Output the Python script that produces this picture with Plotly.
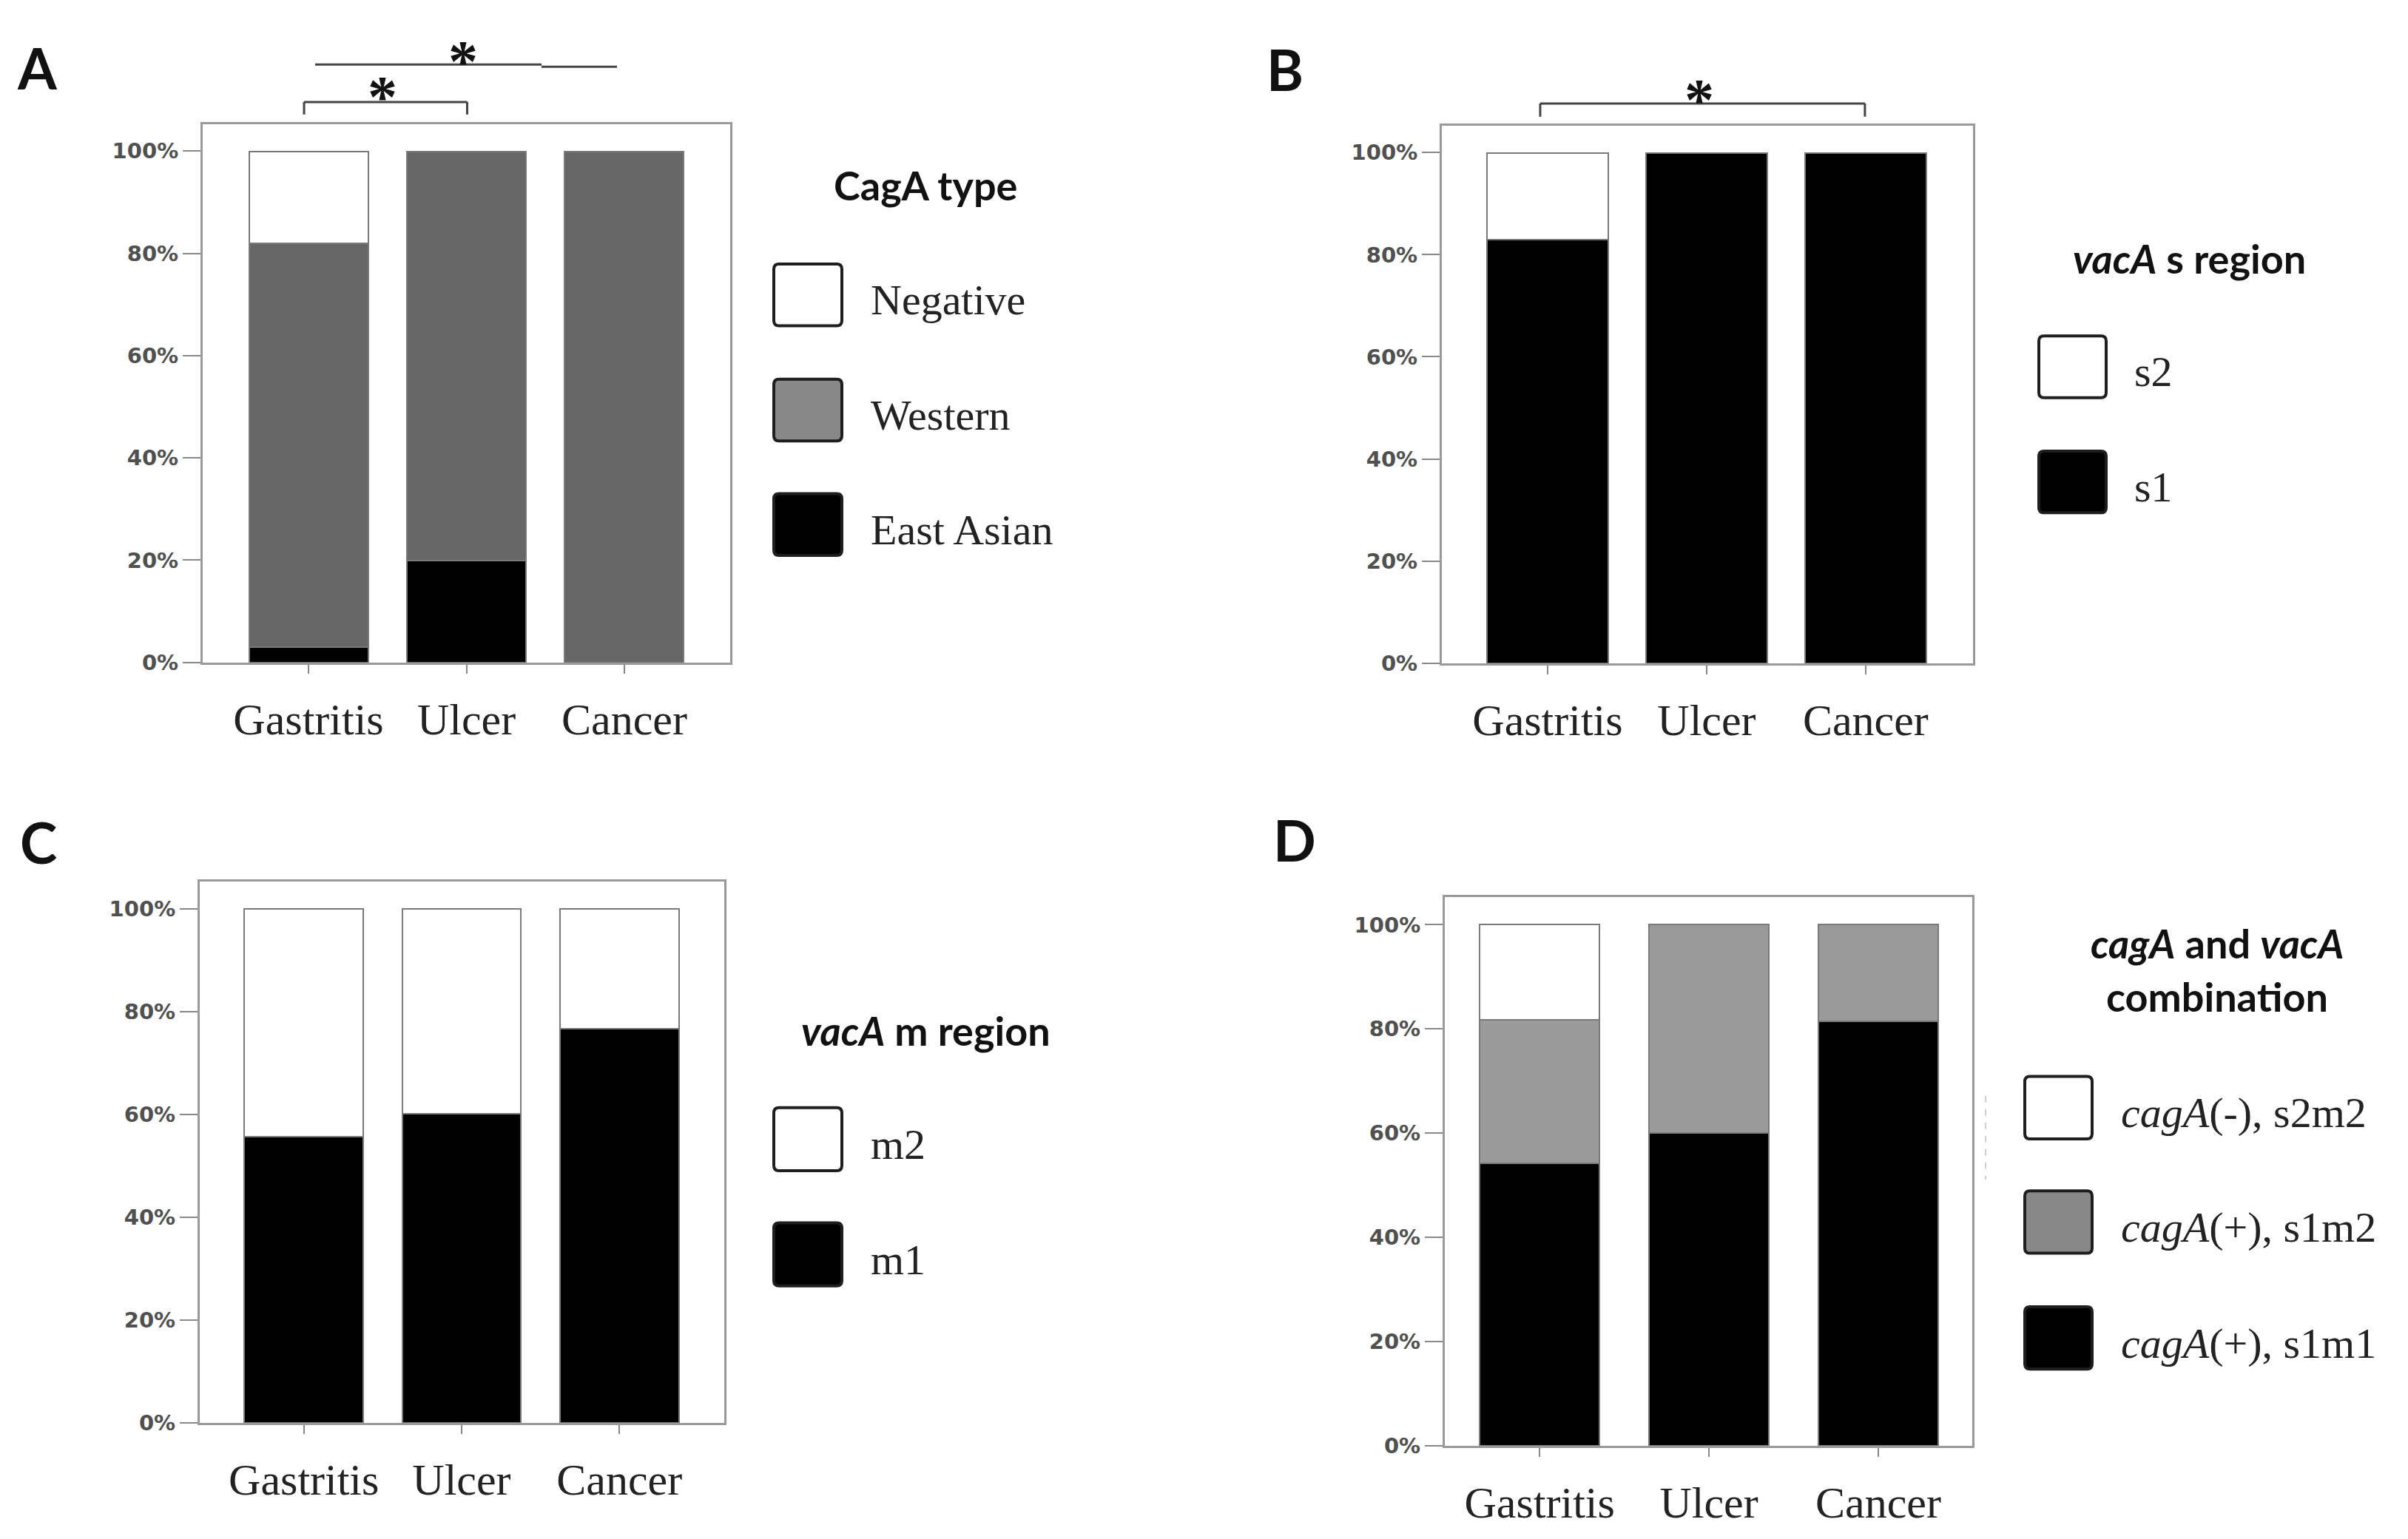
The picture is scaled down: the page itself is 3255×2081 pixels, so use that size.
import plotly.graph_objects as go

W, H = 3255, 2081
OFF = 8  # default page body margin in the browser

# ---------------- data ----------------
categories = ["Gastritis", "Ulcer", "Cancer"]
y_tick_values = [0, 20, 40, 60, 80, 100]
y_tick_labels = ["0%", "20%", "40%", "60%", "80%", "100%"]

# Panel A: CagA type
cagA_east_asian = [3, 20, 0]
cagA_western = [79, 80, 100]
cagA_negative = [18, 0, 0]
# Panel B: vacA s region
vacA_s1 = [83, 100, 100]
vacA_s2 = [17, 0, 0]
# Panel C: vacA m region
vacA_m1 = [55.6, 60.1, 76.7]
vacA_m2 = [44.4, 39.9, 23.3]
# Panel D: cagA and vacA combination
combo_s1m1 = [54.2, 60.0, 81.4]
combo_s1m2 = [27.6, 40.0, 18.6]
combo_s2m2 = [18.2, 0, 0]

legend_A_names = ["Negative", "Western", "East Asian"]
legend_B_names = ["s2", "s1"]
legend_C_names = ["m2", "m1"]
legend_D_names = ["<i>cagA</i>(-), s2m2", "<i>cagA</i>(+), s1m2", "<i>cagA</i>(+), s1m1"]

# ---------------- helpers ----------------
def X(px):
    return (px - OFF) / W

def Y(py):
    return 1 - (py - OFF) / H

# panel geometry (pixels): x0, x1, y_top, y_bottom, x-range
panels = {
    "A": dict(ax="", box=(274, 987, 169, 903), xr=(-0.67, 2.67), bw=0.754),
    "B": dict(ax="2", box=(1949, 2667, 171, 904), xr=(-0.665, 2.675), bw=0.76),
    "C": dict(ax="3", box=(270, 979, 1202, 1940), xr=(-0.66, 2.665), bw=0.754),
    "D": dict(ax="4", box=(1953, 2666, 1223, 1971), xr=(-0.56, 2.555), bw=0.71),
}
Y_MAX = 105.3

fig = go.Figure()

def add_bars(panel, series):
    p = panels[panel]
    for vals, color in series:
        fig.add_trace(go.Bar(
            x=categories, y=vals, width=p["bw"],
            marker=dict(color=color, line=dict(color="#7a7a7a", width=2)),
            xaxis="x" + p["ax"], yaxis="y" + p["ax"], showlegend=False,
            hoverinfo="x+y",
        ))

add_bars("A", [(cagA_east_asian, "#000000"), (cagA_western, "#666666"), (cagA_negative, "#ffffff")])
add_bars("B", [(vacA_s1, "#000000"), (vacA_s2, "#ffffff")])
add_bars("C", [(vacA_m1, "#000000"), (vacA_m2, "#ffffff")])
add_bars("D", [(combo_s1m1, "#000000"), (combo_s1m2, "#9a9a9a"), (combo_s2m2, "#ffffff")])

layout = dict(
    width=W, height=H, autosize=False,
    margin=dict(l=0, r=0, t=0, b=0),
    paper_bgcolor="white", plot_bgcolor="white",
    barmode="stack", bargap=0,
    showlegend=False,
)
for name, p in panels.items():
    x0, x1, yt, yb = p["box"]
    layout["xaxis" + p["ax"]] = dict(
        domain=[X(x0), X(x1)], anchor="y" + p["ax"], type="category",
        range=list(p["xr"]), showline=True, mirror=True, linecolor="#9a9a9a", linewidth=3,
        ticks="outside", ticklen=12, tickwidth=2, tickcolor="#888888",
        tickfont=dict(family="Liberation Serif", size=60, color="#222222"),
        ticklabelstandoff=10, showgrid=False, zeroline=False, fixedrange=True,
    )
    layout["yaxis" + p["ax"]] = dict(
        domain=[Y(yb), Y(yt)], anchor="x" + p["ax"], range=[0, Y_MAX],
        tickvals=y_tick_values, ticktext=["<b>" + t + "</b>" for t in y_tick_labels],
        showline=True, mirror=True, linecolor="#9a9a9a", linewidth=3,
        ticks="outside", ticklen=24, tickwidth=2, tickcolor="#888888",
        tickfont=dict(family="DejaVu Sans", size=29, color="#505050"),
        showgrid=False, zeroline=False, fixedrange=True,
    )
fig.update_layout(**layout)

shapes = []
annotations = []

def cat_px(panel, c):
    p = panels[panel]
    x0, x1, _, _ = p["box"]
    r0, r1 = p["xr"]
    return x0 + (c - r0) / (r1 - r0) * (x1 - x0)

def line(xa, ya, xb, yb, color="#444444", width=3, dash=None):
    d = dict(type="line", xref="paper", yref="paper",
             x0=X(xa), y0=Y(ya), x1=X(xb), y1=Y(yb),
             line=dict(color=color, width=width))
    if dash:
        d["line"]["dash"] = dash
    shapes.append(d)

def text(px, py, s, size, family, color="#111111", xanchor="center"):
    annotations.append(dict(
        xref="paper", yref="paper", x=X(px), y=Y(py), text=s, showarrow=False,
        xanchor=xanchor, yanchor="middle",
        font=dict(family=family, size=size, color=color),
    ))

def rrect(xa, ya, xb, yb, r, fill):
    pts = [
        ("M", [(xa + r, ya)]), ("L", [(xb - r, ya)]), ("Q", [(xb, ya), (xb, ya + r)]),
        ("L", [(xb, yb - r)]), ("Q", [(xb, yb), (xb - r, yb)]), ("L", [(xa + r, yb)]),
        ("Q", [(xa, yb), (xa, yb - r)]), ("L", [(xa, ya + r)]), ("Q", [(xa, ya), (xa + r, ya)]),
    ]
    path = ""
    for cmd, pl in pts:
        path += cmd + " " + " ".join(f"{X(a):.6f},{Y(b):.6f}" for a, b in pl) + " "
    path += "Z"
    shapes.append(dict(type="path", xref="paper", yref="paper", path=path,
                       fillcolor=fill, line=dict(color="#1e1e1e", width=4)))

# significance marks: (panel, cat_from, cat_to, pixel trim left, pixel trim right,
#                      y_line, y_tick_end or None, y_star)
significance = [
    ("A", 0, 1, -6, 1, 139, 156, 120),
    ("A", 0, 2, 9, -10, 89, None, 72),
    ("B", 0, 2, -10, -1, 141, 159, 124),
]
for panel, ca, cb, da, db, yl, ye, ys in significance:
    xa = cat_px(panel, ca) + da
    xb = cat_px(panel, cb) + db
    if ye is not None:
        line(xa, yl, xb, yl)
        line(xa, yl, xa, ye)
        line(xb, yl, xb, ye)
    else:
        # long line drawn as two slightly offset segments, as in the original
        xm = xa + 0.75 * (xb - xa)
        line(xa, yl - 1, xm, yl - 1)
        line(xm, yl + 2, xb, yl + 2)
    text((xa + xb) / 2 - 4, ys + 12, "<b>*</b>", 80, "Liberation Serif", "#111111")

# panel letters
for letter, (px, py) in {"A": (50, 92), "B": (1737, 94), "C": (52, 1148), "D": (1750, 1145)}.items():
    text(px, py, "<b>" + letter + "</b>", 76, "Lato", "#111111")

# legends (drawn)
def legend(titles, names, fills, bx0, bx1, rows, bh, lx):
    for (t, tx, ty) in titles:
        text(tx, ty, t, 54, "Lato", "#111111")
    for name, fill, ry in zip(names, fills, rows):
        rrect(bx0, ry - bh / 2, bx1, ry + bh / 2, 7, fill)
        text(lx, ry + 7, name, 58, "Liberation Serif", "#222222", xanchor="left")

legend([("<b>CagA type</b>", 1251, 253)], legend_A_names,
       ["#ffffff", "#888888", "#000000"], 1046, 1138, [402, 559, 715], 84, 1175)
legend([("<b><i>vacA</i> s region</b>", 2959, 352)], legend_B_names,
       ["#ffffff", "#000000"], 2756, 2847, [500, 657], 84, 2883)
legend([("<b><i>vacA</i> m region</b>", 1251, 1405)], legend_C_names,
       ["#ffffff", "#000000"], 1046, 1138, [1553, 1710], 86, 1175)
legend([("<b><i>cagA</i> and <i>vacA</i></b>", 2997, 1286), ("<b>combination</b>", 2997, 1359)],
       legend_D_names, ["#ffffff", "#888888", "#000000"], 2737, 2828, [1510, 1666, 1824], 85, 2865)

# faint dashed artifact line next to legend D
line(2684, 1494, 2684, 1608, color="#d0d0d0", width=2, dash="dash")

fig.update_layout(shapes=shapes, annotations=annotations)
fig.write_html("out.html")
